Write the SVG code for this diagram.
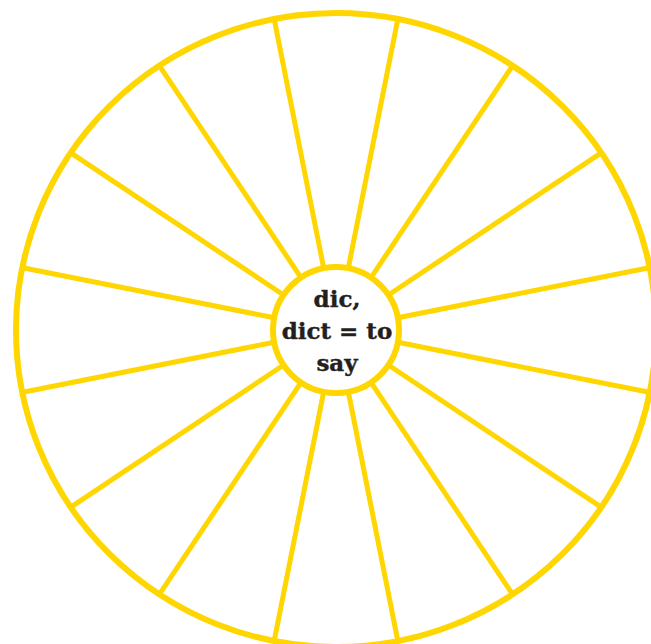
<svg xmlns="http://www.w3.org/2000/svg" width="651" height="644" viewBox="0 0 651 644">
<style>
.ring{fill:none;stroke:#FFD600;stroke-width:6}
.spoke{stroke:#FFD600;stroke-width:5;stroke-linecap:butt}
.hub{fill:#ffffff;stroke:#FFD600;stroke-width:6}
.lbl{font-family:"DejaVu Serif","Liberation Serif",serif;font-weight:bold;font-size:23px;fill:#231f20;stroke:#231f20;stroke-width:0.4;text-anchor:middle}
</style>
<rect width="651" height="644" fill="#ffffff"/>
<g id="wheel">
<ellipse class="ring" cx="336" cy="330" rx="320" ry="317"/>
</g>
<g id="spokes">
<g transform="translate(336,330)">
<line class="spoke" x1="0" y1="-63" x2="0" y2="-318" transform="rotate(11.25)"/>
<line class="spoke" x1="0" y1="-63" x2="0" y2="-318" transform="rotate(33.75)"/>
<line class="spoke" x1="0" y1="-63" x2="0" y2="-318" transform="rotate(56.25)"/>
<line class="spoke" x1="0" y1="-63" x2="0" y2="-318" transform="rotate(78.75)"/>
<line class="spoke" x1="0" y1="-63" x2="0" y2="-318" transform="rotate(101.25)"/>
<line class="spoke" x1="0" y1="-63" x2="0" y2="-318" transform="rotate(123.75)"/>
<line class="spoke" x1="0" y1="-63" x2="0" y2="-318" transform="rotate(146.25)"/>
<line class="spoke" x1="0" y1="-63" x2="0" y2="-318" transform="rotate(168.75)"/>
<line class="spoke" x1="0" y1="-63" x2="0" y2="-318" transform="rotate(191.25)"/>
<line class="spoke" x1="0" y1="-63" x2="0" y2="-318" transform="rotate(213.75)"/>
<line class="spoke" x1="0" y1="-63" x2="0" y2="-318" transform="rotate(236.25)"/>
<line class="spoke" x1="0" y1="-63" x2="0" y2="-318" transform="rotate(258.75)"/>
<line class="spoke" x1="0" y1="-63" x2="0" y2="-318" transform="rotate(281.25)"/>
<line class="spoke" x1="0" y1="-63" x2="0" y2="-318" transform="rotate(303.75)"/>
<line class="spoke" x1="0" y1="-63" x2="0" y2="-318" transform="rotate(326.25)"/>
<line class="spoke" x1="0" y1="-63" x2="0" y2="-318" transform="rotate(348.75)"/>
</g>
</g>
<g id="hub">
<circle class="hub" cx="336" cy="330" r="63"/>
<text class="lbl" x="337" y="307">dic,</text>
<text class="lbl" x="337" y="339">dict = to</text>
<text class="lbl" x="337" y="371">say</text>
</g>
</svg>
